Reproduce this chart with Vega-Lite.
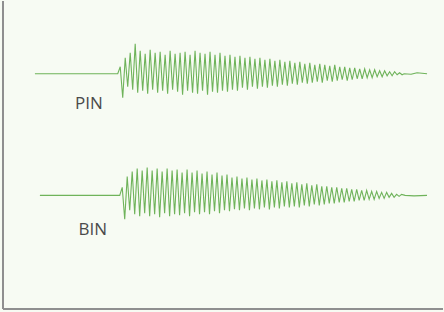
{
  "$schema": "https://vega.github.io/schema/vega-lite/v6.json",
  "width": 444,
  "height": 312,
  "padding": 0,
  "autosize": {"type": "fit", "contains": "padding"},
  "background": "#f7fbf3",
  "config": {"view": {"stroke": null}},
  "datasets": {
    "traces": [
      {"s":"PIN","t":35,"v":73},{"s":"PIN","t":118,"v":73},
      {"s":"PIN","t":120.5,"v":66},{"s":"PIN","t":123,"v":97},{"s":"PIN","t":125.5,"v":57},{"s":"PIN","t":128,"v":86},
      {"s":"PIN","t":130.5,"v":52},{"s":"PIN","t":133,"v":89},{"s":"PIN","t":135.5,"v":43},{"s":"PIN","t":138,"v":92},
      {"s":"PIN","t":140.5,"v":50},{"s":"PIN","t":143,"v":90},{"s":"PIN","t":145.5,"v":53},{"s":"PIN","t":148,"v":93},
      {"s":"PIN","t":150.5,"v":49},{"s":"PIN","t":153,"v":89},{"s":"PIN","t":155.5,"v":52},{"s":"PIN","t":158,"v":92},
      {"s":"PIN","t":160.5,"v":51},{"s":"PIN","t":163,"v":90},{"s":"PIN","t":165.5,"v":54},{"s":"PIN","t":168,"v":93},
      {"s":"PIN","t":170.5,"v":50},{"s":"PIN","t":173,"v":89},{"s":"PIN","t":175.5,"v":53},{"s":"PIN","t":178,"v":91},
      {"s":"PIN","t":180.5,"v":52},{"s":"PIN","t":183,"v":94},{"s":"PIN","t":185.5,"v":51},{"s":"PIN","t":188,"v":90},
      {"s":"PIN","t":190.5,"v":54},{"s":"PIN","t":193,"v":92},{"s":"PIN","t":195.5,"v":50},{"s":"PIN","t":198,"v":93},
      {"s":"PIN","t":200.5,"v":52},{"s":"PIN","t":203,"v":90},{"s":"PIN","t":205.5,"v":53},{"s":"PIN","t":208,"v":94},
      {"s":"PIN","t":210.5,"v":51},{"s":"PIN","t":213,"v":91},{"s":"PIN","t":215.5,"v":54},{"s":"PIN","t":218,"v":92},
      {"s":"PIN","t":220.5,"v":52},{"s":"PIN","t":223,"v":90},{"s":"PIN","t":225.5,"v":55},{"s":"PIN","t":228,"v":91},
      {"s":"PIN","t":230.5,"v":54},{"s":"PIN","t":233,"v":89},{"s":"PIN","t":235.5,"v":56},{"s":"PIN","t":238,"v":90},
      {"s":"PIN","t":240.5,"v":55},{"s":"PIN","t":243,"v":87},{"s":"PIN","t":245.5,"v":57},{"s":"PIN","t":248,"v":89},
      {"s":"PIN","t":250.5,"v":56},{"s":"PIN","t":253,"v":86},{"s":"PIN","t":255.5,"v":58},{"s":"PIN","t":258,"v":88},
      {"s":"PIN","t":260.5,"v":57},{"s":"PIN","t":263,"v":86},{"s":"PIN","t":265.5,"v":59},{"s":"PIN","t":268,"v":87},
      {"s":"PIN","t":270.5,"v":58},{"s":"PIN","t":273,"v":85},{"s":"PIN","t":275.5,"v":60},{"s":"PIN","t":278,"v":86},
      {"s":"PIN","t":280.5,"v":59},{"s":"PIN","t":283,"v":84},{"s":"PIN","t":285.5,"v":61},{"s":"PIN","t":288,"v":85},
      {"s":"PIN","t":290.5,"v":60},{"s":"PIN","t":293,"v":83},{"s":"PIN","t":295.5,"v":62},{"s":"PIN","t":298,"v":84},
      {"s":"PIN","t":300.5,"v":61},{"s":"PIN","t":303,"v":82},{"s":"PIN","t":305.5,"v":63},{"s":"PIN","t":308,"v":83},
      {"s":"PIN","t":310.5,"v":62},{"s":"PIN","t":313,"v":82},{"s":"PIN","t":315.5,"v":64},{"s":"PIN","t":318,"v":81},
      {"s":"PIN","t":320.5,"v":63},{"s":"PIN","t":323,"v":82},{"s":"PIN","t":325.5,"v":64},{"s":"PIN","t":328,"v":80},
      {"s":"PIN","t":330.5,"v":65},{"s":"PIN","t":333,"v":81},{"s":"PIN","t":335.5,"v":64},{"s":"PIN","t":338,"v":80},
      {"s":"PIN","t":340.5,"v":66},{"s":"PIN","t":343,"v":79},{"s":"PIN","t":345.5,"v":66},{"s":"PIN","t":348,"v":80},
      {"s":"PIN","t":350.5,"v":67},{"s":"PIN","t":353,"v":79},{"s":"PIN","t":355.5,"v":67},{"s":"PIN","t":358,"v":78},
      {"s":"PIN","t":360.5,"v":68},{"s":"PIN","t":363,"v":78},{"s":"PIN","t":365.5,"v":68},{"s":"PIN","t":368,"v":77},
      {"s":"PIN","t":370.5,"v":69},{"s":"PIN","t":373,"v":77},{"s":"PIN","t":375.5,"v":69},{"s":"PIN","t":378,"v":76},
      {"s":"PIN","t":380.5,"v":70},{"s":"PIN","t":383,"v":76},{"s":"PIN","t":385.5,"v":70},{"s":"PIN","t":388,"v":75},
      {"s":"PIN","t":390.5,"v":71},{"s":"PIN","t":393,"v":75},{"s":"PIN","t":395.5,"v":71},{"s":"PIN","t":398,"v":74},
      {"s":"PIN","t":400.5,"v":72},{"s":"PIN","t":403,"v":74},{"s":"PIN","t":405,"v":73},{"s":"PIN","t":412,"v":73.5},
      {"s":"PIN","t":418,"v":72},{"s":"PIN","t":428,"v":73},

      {"s":"BIN","t":40,"v":195},{"s":"BIN","t":120,"v":195},
      {"s":"BIN","t":122.5,"v":187},{"s":"BIN","t":125,"v":219},{"s":"BIN","t":127.5,"v":176},{"s":"BIN","t":130,"v":210},
      {"s":"BIN","t":132.5,"v":171},{"s":"BIN","t":135,"v":214},{"s":"BIN","t":137.5,"v":168},{"s":"BIN","t":140,"v":216},
      {"s":"BIN","t":142.5,"v":170},{"s":"BIN","t":145,"v":213},{"s":"BIN","t":147.5,"v":167},{"s":"BIN","t":150,"v":216},
      {"s":"BIN","t":152.5,"v":170},{"s":"BIN","t":155,"v":214},{"s":"BIN","t":157.5,"v":168},{"s":"BIN","t":160,"v":217},
      {"s":"BIN","t":162.5,"v":171},{"s":"BIN","t":165,"v":213},{"s":"BIN","t":167.5,"v":168},{"s":"BIN","t":170,"v":216},
      {"s":"BIN","t":172.5,"v":170},{"s":"BIN","t":175,"v":214},{"s":"BIN","t":177.5,"v":169},{"s":"BIN","t":180,"v":215},
      {"s":"BIN","t":182.5,"v":172},{"s":"BIN","t":185,"v":213},{"s":"BIN","t":187.5,"v":169},{"s":"BIN","t":190,"v":216},
      {"s":"BIN","t":192.5,"v":172},{"s":"BIN","t":195,"v":212},{"s":"BIN","t":197.5,"v":170},{"s":"BIN","t":200,"v":214},
      {"s":"BIN","t":202.5,"v":173},{"s":"BIN","t":205,"v":212},{"s":"BIN","t":207.5,"v":171},{"s":"BIN","t":210,"v":214},
      {"s":"BIN","t":212.5,"v":174},{"s":"BIN","t":215,"v":211},{"s":"BIN","t":217.5,"v":172},{"s":"BIN","t":220,"v":213},
      {"s":"BIN","t":222.5,"v":175},{"s":"BIN","t":225,"v":210},{"s":"BIN","t":227.5,"v":174},{"s":"BIN","t":230,"v":211},
      {"s":"BIN","t":232.5,"v":177},{"s":"BIN","t":235,"v":209},{"s":"BIN","t":237.5,"v":176},{"s":"BIN","t":240,"v":210},
      {"s":"BIN","t":242.5,"v":178},{"s":"BIN","t":245,"v":208},{"s":"BIN","t":247.5,"v":177},{"s":"BIN","t":250,"v":210},
      {"s":"BIN","t":252.5,"v":179},{"s":"BIN","t":255,"v":208},{"s":"BIN","t":257.5,"v":178},{"s":"BIN","t":260,"v":209},
      {"s":"BIN","t":262.5,"v":180},{"s":"BIN","t":265,"v":207},{"s":"BIN","t":267.5,"v":179},{"s":"BIN","t":270,"v":209},
      {"s":"BIN","t":272.5,"v":181},{"s":"BIN","t":275,"v":207},{"s":"BIN","t":277.5,"v":180},{"s":"BIN","t":280,"v":208},
      {"s":"BIN","t":282.5,"v":182},{"s":"BIN","t":285,"v":206},{"s":"BIN","t":287.5,"v":181},{"s":"BIN","t":290,"v":207},
      {"s":"BIN","t":292.5,"v":183},{"s":"BIN","t":295,"v":206},{"s":"BIN","t":297.5,"v":182},{"s":"BIN","t":300,"v":207},
      {"s":"BIN","t":302.5,"v":184},{"s":"BIN","t":305,"v":205},{"s":"BIN","t":307.5,"v":183},{"s":"BIN","t":310,"v":206},
      {"s":"BIN","t":312.5,"v":185},{"s":"BIN","t":315,"v":204},{"s":"BIN","t":317.5,"v":184},{"s":"BIN","t":320,"v":205},
      {"s":"BIN","t":322.5,"v":186},{"s":"BIN","t":325,"v":204},{"s":"BIN","t":327.5,"v":186},{"s":"BIN","t":330,"v":203},
      {"s":"BIN","t":332.5,"v":187},{"s":"BIN","t":335,"v":203},{"s":"BIN","t":337.5,"v":187},{"s":"BIN","t":340,"v":202},
      {"s":"BIN","t":342.5,"v":188},{"s":"BIN","t":345,"v":202},{"s":"BIN","t":347.5,"v":188},{"s":"BIN","t":350,"v":201},
      {"s":"BIN","t":352.5,"v":189},{"s":"BIN","t":355,"v":201},{"s":"BIN","t":357.5,"v":189},{"s":"BIN","t":360,"v":200},
      {"s":"BIN","t":362.5,"v":190},{"s":"BIN","t":365,"v":200},{"s":"BIN","t":367.5,"v":190},{"s":"BIN","t":370,"v":199},
      {"s":"BIN","t":372.5,"v":191},{"s":"BIN","t":375,"v":199},{"s":"BIN","t":377.5,"v":191},{"s":"BIN","t":380,"v":198},
      {"s":"BIN","t":382.5,"v":192},{"s":"BIN","t":385,"v":198},{"s":"BIN","t":387.5,"v":192},{"s":"BIN","t":390,"v":197},
      {"s":"BIN","t":392.5,"v":193},{"s":"BIN","t":395,"v":197},{"s":"BIN","t":397.5,"v":194},{"s":"BIN","t":400,"v":196},
      {"s":"BIN","t":402.5,"v":194},{"s":"BIN","t":406,"v":195},{"s":"BIN","t":415,"v":195.5},{"s":"BIN","t":428,"v":195}
    ],
    "labels": [
      {"label":"PIN","t":89,"v":103},
      {"label":"BIN","t":93,"v":230}
    ],
    "frame": [
      {"side":"left","t":3,"v":0,"t2":3,"v2":309},
      {"side":"bottom","t":3,"v":309,"t2":444,"v2":309}
    ]
  },
  "layer": [
    {
      "data": {"name": "frame"},
      "mark": {"type": "rule", "color": "#8f8f8f", "strokeWidth": 2},
      "encoding": {
        "x": {"field": "t", "type": "quantitative", "scale": {"domain": [0, 444], "nice": false, "zero": false}, "axis": null},
        "y": {"field": "v", "type": "quantitative", "scale": {"domain": [0, 312], "reverse": true, "nice": false, "zero": false}, "axis": null},
        "x2": {"field": "t2"},
        "y2": {"field": "v2"}
      }
    },
    {
      "data": {"name": "traces"},
      "mark": {"type": "line", "color": "#5fab49", "strokeWidth": 1.1, "opacity": 0.9},
      "encoding": {
        "x": {"field": "t", "type": "quantitative"},
        "y": {"field": "v", "type": "quantitative"},
        "detail": {"field": "s"}
      }
    },
    {
      "data": {"name": "labels"},
      "mark": {"type": "text", "font": "Open Sans", "fontSize": 17, "color": "#4a4a4a", "align": "center", "baseline": "middle"},
      "encoding": {
        "x": {"field": "t", "type": "quantitative"},
        "y": {"field": "v", "type": "quantitative"},
        "text": {"field": "label"}
      }
    }
  ]
}
